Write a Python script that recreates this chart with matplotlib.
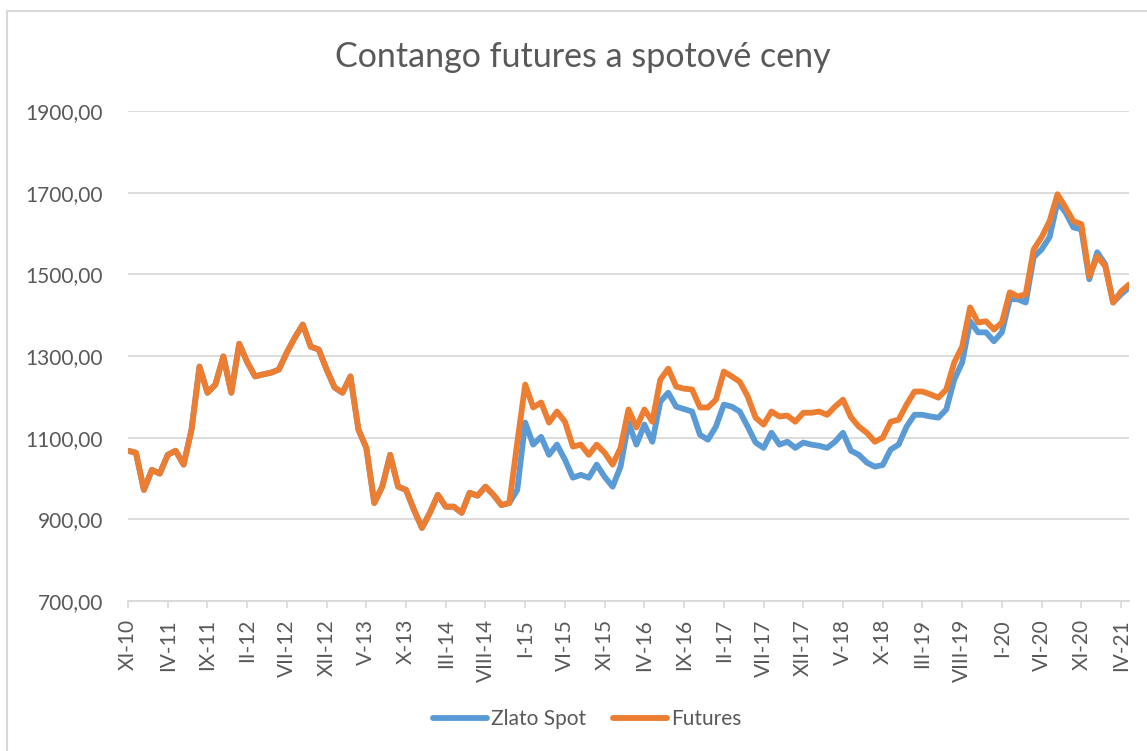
import matplotlib.pyplot as plt
from matplotlib.lines import Line2D
from matplotlib.ticker import FuncFormatter

# monthly values, XI-10 .. V-21
spot = [1068, 1063, 972, 1021, 1012, 1058, 1068, 1034, 1120, 1274,
        1210, 1230, 1299, 1210, 1330, 1285, 1250, 1255, 1259, 1267,
        1309, 1345, 1377, 1323, 1316, 1267, 1223, 1210, 1250, 1120,
        1075, 940, 980, 1058, 980, 972, 923, 879, 916, 960,
        931, 931, 916, 965, 958, 980, 960, 935, 940, 972,
        1137, 1083, 1102, 1058, 1083, 1046, 1002, 1009, 1002, 1034,
        1004, 980, 1029, 1137, 1083, 1132, 1090, 1188, 1210, 1176,
        1170, 1164, 1107, 1095, 1127, 1181, 1176, 1164, 1127, 1088,
        1075, 1112, 1083, 1090, 1075, 1088, 1083, 1080, 1075, 1090,
        1112, 1068, 1058, 1039, 1029, 1033, 1071, 1083, 1127, 1156,
        1156, 1152, 1149, 1169, 1242, 1284, 1385, 1358, 1358, 1336,
        1358, 1439, 1439, 1431, 1542, 1561, 1591, 1677, 1652, 1615,
        1610, 1488, 1554, 1525, 1431, 1451, 1468]
futures = [1068, 1063, 972, 1021, 1012, 1058, 1068, 1034, 1120, 1274,
           1210, 1230, 1299, 1210, 1330, 1285, 1250, 1255, 1259, 1267,
           1309, 1345, 1377, 1323, 1316, 1267, 1223, 1210, 1250, 1120,
           1075, 940, 980, 1058, 980, 972, 923, 879, 916, 960,
           931, 931, 916, 965, 958, 980, 960, 935, 940, 1088,
           1230, 1174, 1186, 1137, 1164, 1139, 1078, 1083, 1058, 1083,
           1063, 1034, 1075, 1169, 1125, 1169, 1139, 1242, 1269, 1225,
           1220, 1218, 1174, 1174, 1193, 1262, 1250, 1237, 1201, 1149,
           1132, 1164, 1152, 1154, 1139, 1161, 1161, 1164, 1156, 1176,
           1193, 1150, 1127, 1112, 1090, 1100, 1139, 1144, 1181, 1213,
           1213, 1206, 1198, 1218, 1284, 1323, 1419, 1382, 1385, 1365,
           1382, 1456, 1446, 1451, 1561, 1591, 1630, 1696, 1664, 1630,
           1623, 1495, 1544, 1520, 1431, 1458, 1475]

tick_labels = ['XI-10', 'IV-11', 'IX-11', 'II-12', 'VII-12', 'XII-12', 'V-13',
               'X-13', 'III-14', 'VIII-14', 'I-15', 'VI-15', 'XI-15', 'IV-16',
               'IX-16', 'II-17', 'VII-17', 'XII-17', 'V-18', 'X-18', 'III-19',
               'VIII-19', 'I-20', 'VI-20', 'XI-20', 'IV-21']
y_ticks = [700, 900, 1100, 1300, 1500, 1700, 1900]

plt.rcParams['font.family'] = ['Lato', 'DejaVu Sans']
txt = '#595959'
grid = '#D9D9D9'
blue = '#5B9BD5'
orange = '#ED7D31'

fig = plt.figure(figsize=(11.47, 7.51), dpi=100)
ax = fig.add_axes([128 / 1147, 1 - 601 / 751, 1001 / 1147, 490 / 751])

x = list(range(len(spot)))
ax.plot(x, spot, color=blue, lw=4.2, solid_capstyle='round', solid_joinstyle='round', zorder=3)
ax.plot(x, futures, color=orange, lw=4.2, solid_capstyle='round', solid_joinstyle='round', zorder=4)

ax.set_xlim(0, len(spot) - 1)
ax.set_ylim(700, 1900)
ax.set_yticks(y_ticks)
ax.yaxis.set_major_formatter(FuncFormatter(lambda v, p: f'{v:.2f}'.replace('.', ',')))
ax.set_xticks(range(0, 5 * len(tick_labels), 5))
ax.set_xticklabels(tick_labels, rotation=90, va='top')

ax.grid(axis='y', color=grid, lw=1.3, zorder=0)
for s in ['top', 'right', 'left']:
    ax.spines[s].set_visible(False)
ax.spines['bottom'].set_color(grid)
ax.spines['bottom'].set_linewidth(1.3)
ax.tick_params(axis='y', length=0, pad=18, labelsize=15, labelcolor=txt)
ax.tick_params(axis='x', length=5, width=1.2, color=grid, pad=8, labelsize=15, labelcolor=txt)

fig.text(0.508, 1 - 57 / 751, 'Contango futures a spotové ceny', ha='center', va='center',
         fontsize=24.5, color=txt)

handles = [Line2D([], [], color=blue, lw=4.2, solid_capstyle='round'),
           Line2D([], [], color=orange, lw=4.2, solid_capstyle='round')]
fig.legend(handles, ['Zlato Spot', 'Futures'], loc='center', bbox_to_anchor=(0.512, 1 - 719 / 751),
           ncol=2, frameon=False, fontsize=15, labelcolor=txt, handlelength=2.6,
           handletextpad=0.2, columnspacing=1.3)

# chart border (left and top edges visible)
fig.add_artist(Line2D([7 / 1147, 7 / 1147], [0, 1 - 11 / 751], color=grid, lw=1.5))
fig.add_artist(Line2D([7 / 1147, 1], [1 - 11 / 751, 1 - 11 / 751], color=grid, lw=1.5))

fig.savefig('out.png', dpi=100)
